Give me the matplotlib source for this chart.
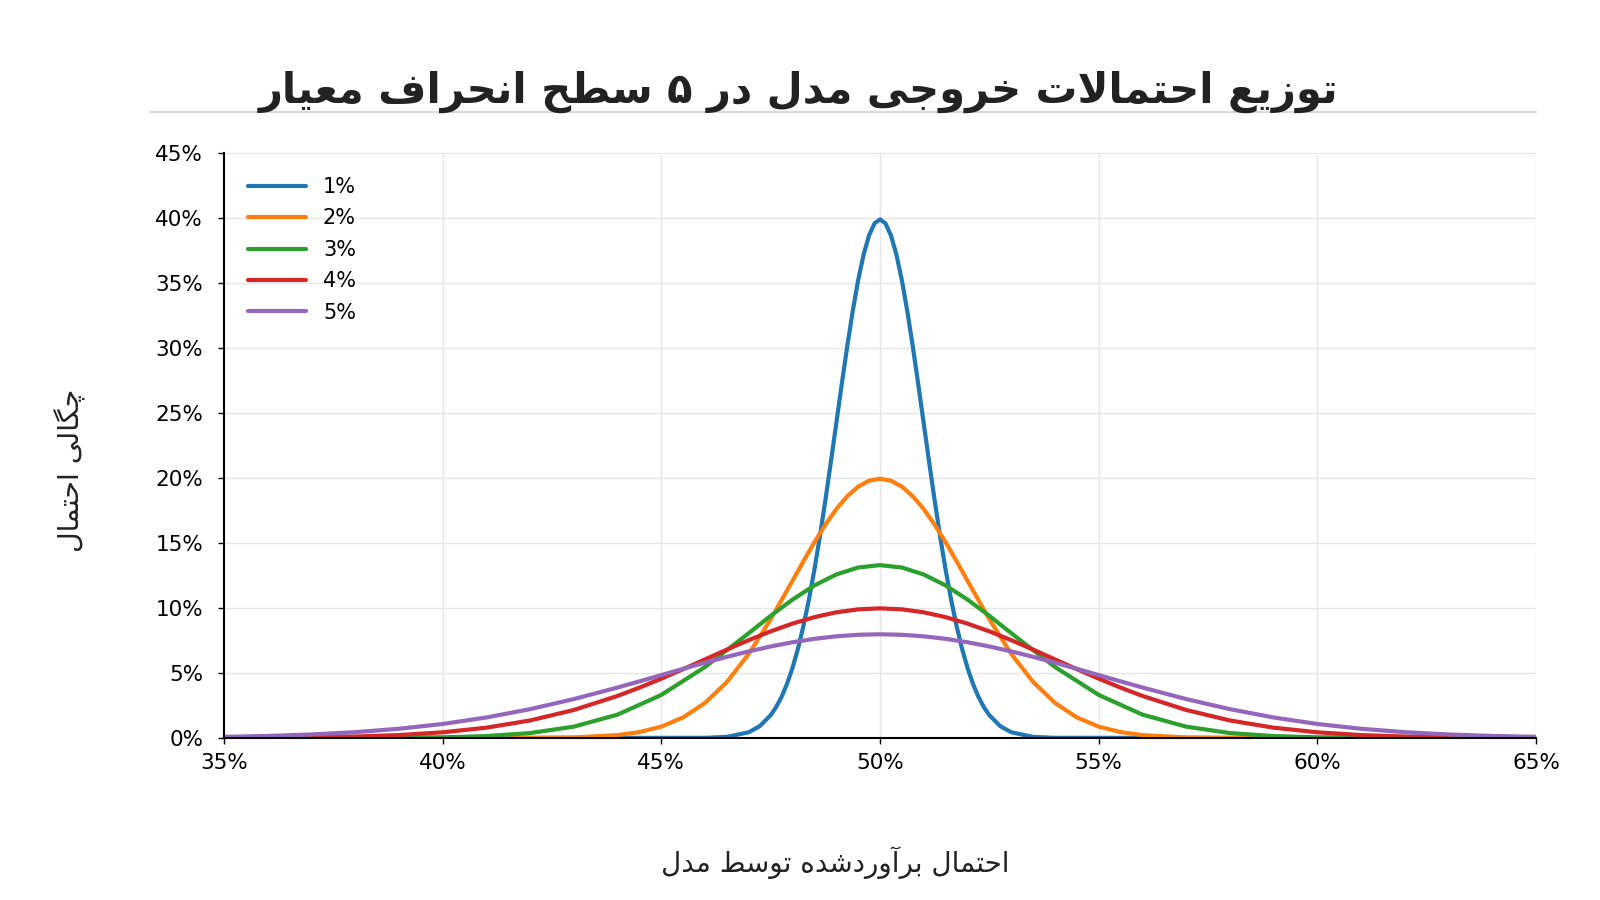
import matplotlib
matplotlib.use('Agg')
import matplotlib.pyplot as plt
from matplotlib.lines import Line2D
from matplotlib.ticker import FuncFormatter

plt.rcParams['font.family'] = ['DejaVu Sans']

# Persian texts
title_text = 'توزیع احتمالات خروجی مدل در ۵ سطح انحراف معیار'
xlabel_text = 'احتمال برآوردشده توسط مدل'
ylabel_text = 'چگالی احتمال'

# legend labels (standard deviation levels)
labels = ['1%', '2%', '3%', '4%', '5%']
colors = ['#1f77b4', '#ff7f0e', '#2ca02c', '#d62728', '#9467bd']

# curves: x = model estimated probability (%), y = density (%)
x_1 = [35, 46, 46.5, 47, 47.25, 47.5, 47.625, 47.75, 47.875, 48, 48.125, 48.25, 48.375,
       48.5, 48.625, 48.75, 48.875, 49, 49.125, 49.25, 49.375, 49.5, 49.625, 49.75, 49.875,
       50, 50.125, 50.25, 50.375, 50.5, 50.625, 50.75, 50.875, 51, 51.125, 51.25, 51.375,
       51.5, 51.625, 51.75, 51.875, 52, 52.125, 52.25, 52.375, 52.5, 52.75, 53, 53.5, 54, 65]
y_1 = [0, 0.013, 0.087, 0.443, 0.909, 1.753, 2.377, 3.174, 4.172, 5.399, 6.879, 8.628, 10.654,
       12.952, 15.502, 18.265, 21.188, 24.197, 27.206, 30.114, 32.816, 35.207, 37.185, 38.667, 39.584,
       39.894, 39.584, 38.667, 37.185, 35.207, 32.816, 30.114, 27.206, 24.197, 21.188, 18.265, 15.502,
       12.952, 10.654, 8.628, 6.879, 5.399, 4.172, 3.174, 2.377, 1.753, 0.909, 0.443, 0.087, 0.013, 0]

x_2 = [35, 42, 43, 44, 44.5, 45, 45.5, 46, 46.5, 47, 47.5, 48, 48.25, 48.5, 48.75, 49, 49.25,
       49.5, 49.75, 50, 50.25, 50.5, 50.75, 51, 51.25, 51.5, 51.75, 52, 52.5, 53, 53.5, 54,
       54.5, 55, 55.5, 56, 57, 58, 65]
y_2 = [0, 0.007, 0.044, 0.222, 0.455, 0.877, 1.587, 2.700, 4.314, 6.476, 9.133, 12.099, 13.603,
       15.057, 16.408, 17.603, 18.593, 19.334, 19.792, 19.947, 19.792, 19.334, 18.593, 17.603,
       16.408, 15.057, 13.603, 12.099, 9.133, 6.476, 4.314, 2.700, 1.587, 0.877, 0.455, 0.222,
       0.044, 0.007, 0]

x_3 = [35, 38, 40, 41, 42, 43, 44, 45, 46, 47, 47.5, 48, 48.5, 49, 49.5, 50, 50.5, 51, 51.5,
       52, 52.5, 53, 54, 55, 56, 57, 58, 59, 60, 62, 65]
y_3 = [0, 0.0045, 0.0514, 0.148, 0.380, 0.874, 1.800, 3.316, 5.467, 8.066, 9.397, 10.648,
       11.736, 12.579, 13.114, 13.298, 13.114, 12.579, 11.736, 10.648, 9.397, 8.066, 5.467,
       3.316, 1.800, 0.874, 0.380, 0.148, 0.0514, 0.0045, 0]

x_4 = [35, 36, 37, 38, 39, 40, 41, 42, 43, 44, 44.5, 45, 45.5, 46, 46.5, 47, 47.5, 48, 48.5,
       49, 49.5, 50, 50.5, 51, 51.5, 52, 52.5, 53, 53.5, 54, 54.5, 55, 55.5, 56, 57, 58, 59,
       60, 61, 62, 63, 64, 65]
y_4 = [0.0088, 0.0218, 0.0507, 0.111, 0.227, 0.438, 0.794, 1.350, 2.157, 3.238, 3.876, 4.566,
       5.297, 6.049, 6.802, 7.529, 8.204, 8.802, 9.296, 9.667, 9.896, 9.974, 9.896, 9.667, 9.296,
       8.802, 8.204, 7.529, 6.802, 6.049, 5.297, 4.566, 3.876, 3.238, 2.157, 1.350, 0.794,
       0.438, 0.227, 0.111, 0.0507, 0.0218, 0.0088]

x_5 = x_4
y_5 = [0.0886, 0.1583, 0.2717, 0.4479, 0.7095, 1.080, 1.579, 2.218, 2.995, 3.884, 4.357, 4.839,
       5.322, 5.794, 6.245, 6.664, 7.041, 7.365, 7.628, 7.821, 7.939, 7.979, 7.939, 7.821, 7.628,
       7.365, 7.041, 6.664, 6.245, 5.794, 5.322, 4.839, 4.357, 3.884, 2.995, 2.218, 1.579,
       1.080, 0.7095, 0.4479, 0.2717, 0.1583, 0.0886]

x_ticks = [35, 40, 45, 50, 55, 60, 65]
y_ticks = [0, 5, 10, 15, 20, 25, 30, 35, 40, 45]

# arabic presentation forms: isolated, final, initial, medial
FORMS = {
    'آ': (0xFE81, 0xFE82, None, None),
    'ا': (0xFE8D, 0xFE8E, None, None),
    'ب': (0xFE8F, 0xFE90, 0xFE91, 0xFE92),
    'پ': (0xFB56, 0xFB57, 0xFB58, 0xFB59),
    'ت': (0xFE95, 0xFE96, 0xFE97, 0xFE98),
    'ج': (0xFE9D, 0xFE9E, 0xFE9F, 0xFEA0),
    'چ': (0xFB7A, 0xFB7B, 0xFB7C, 0xFB7D),
    'ح': (0xFEA1, 0xFEA2, 0xFEA3, 0xFEA4),
    'خ': (0xFEA5, 0xFEA6, 0xFEA7, 0xFEA8),
    'د': (0xFEA9, 0xFEAA, None, None),
    'ر': (0xFEAD, 0xFEAE, None, None),
    'ز': (0xFEAF, 0xFEB0, None, None),
    'س': (0xFEB1, 0xFEB2, 0xFEB3, 0xFEB4),
    'ش': (0xFEB5, 0xFEB6, 0xFEB7, 0xFEB8),
    'ط': (0xFEC1, 0xFEC2, 0xFEC3, 0xFEC4),
    'ع': (0xFEC9, 0xFECA, 0xFECB, 0xFECC),
    'ف': (0xFED1, 0xFED2, 0xFED3, 0xFED4),
    'ک': (0xFB8E, 0xFB8F, 0xFB90, 0xFB91),
    'گ': (0xFB92, 0xFB93, 0xFB94, 0xFB95),
    'ل': (0xFEDD, 0xFEDE, 0xFEDF, 0xFEE0),
    'م': (0xFEE1, 0xFEE2, 0xFEE3, 0xFEE4),
    'ن': (0xFEE5, 0xFEE6, 0xFEE7, 0xFEE8),
    'و': (0xFEED, 0xFEEE, None, None),
    'ه': (0xFEE9, 0xFEEA, 0xFEEB, 0xFEEC),
    'ی': (0xFBFC, 0xFBFD, 0xFBFE, 0xFBFF),
}
LAM_ALEF = {'ا': (0xFEFB, 0xFEFC), 'آ': (0xFEF5, 0xFEF6)}


def shape_fa(text):
    # join letters and reverse for left-to-right drawing
    out = []
    i = 0
    n = len(text)
    while i < n:
        ch = text[i]
        if ch not in FORMS:
            out.append(ch)
            i += 1
            continue
        prev = text[i - 1] if i > 0 else ''
        nxt = text[i + 1] if i + 1 < n else ''
        joins_prev = prev in FORMS and FORMS[prev][2] is not None
        if ch == 'ل' and nxt in LAM_ALEF:
            iso, fin = LAM_ALEF[nxt]
            out.append(chr(fin if joins_prev else iso))
            i += 2
            continue
        iso, fin, ini, med = FORMS[ch]
        joins_next = ini is not None and nxt in FORMS
        if joins_prev and joins_next:
            c = med
        elif joins_prev:
            c = fin
        elif joins_next:
            c = ini
        else:
            c = iso
        out.append(chr(c))
        i += 1
    return ''.join(reversed(out))


fig = plt.figure(figsize=(16, 9), dpi=100)
ax = fig.add_axes([0.14, 0.18, 0.82, 0.65])

series = [(x_1, y_1), (x_2, y_2), (x_3, y_3), (x_4, y_4), (x_5, y_5)]
for (xs, ys), lab, col in zip(series, labels, colors):
    ax.plot(xs, ys, color=col, lw=3, label=lab, solid_capstyle='round',
            solid_joinstyle='round')

ax.set_xlim(35, 65)
ax.set_ylim(0, 45)
ax.set_xticks(x_ticks)
ax.set_yticks(y_ticks)
pct = FuncFormatter(lambda v, p: f'{v:.0f}%')
ax.xaxis.set_major_formatter(pct)
ax.yaxis.set_major_formatter(pct)
ax.tick_params(labelsize=15.5, length=4, width=1, colors='black')
ax.tick_params(axis='x', pad=7)
ax.tick_params(axis='y', pad=11)
ax.grid(True, color='#e6e6e6', lw=1)
ax.set_axisbelow(True)
for s in ['top', 'right']:
    ax.spines[s].set_visible(False)
for s in ['left', 'bottom']:
    ax.spines[s].set_linewidth(1.5)

ax.legend(loc='upper left', frameon=False, fontsize=15, handlelength=2.8,
          labelspacing=0.55, borderaxespad=0.75)

fig.text(0.499, 1 - 103 / 900, shape_fa(title_text), ha='center', va='baseline',
         fontsize=30, fontweight='bold', color='#222222')
fig.add_artist(Line2D([150 / 1600, 1536 / 1600], [1 - 112 / 900, 1 - 112 / 900],
                      color='#d9d9d9', lw=1.5))
fig.text(835 / 1600, 1 - 872 / 900, shape_fa(xlabel_text), ha='center', va='baseline',
         fontsize=20, color='#222222')
fig.text(69 / 1600, 1 - 470 / 900, shape_fa(ylabel_text), ha='center', va='center',
         rotation=90, fontsize=20.5, color='#222222')

fig.savefig('out.png', dpi=100)
